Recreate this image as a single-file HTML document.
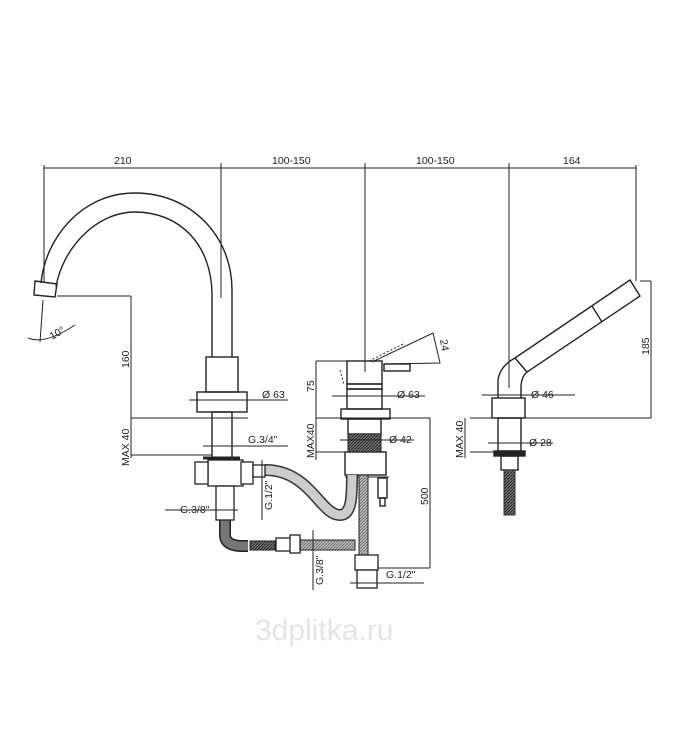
<!DOCTYPE html>
<html><head><meta charset="utf-8"><style>
html,body{margin:0;padding:0;background:#fff;width:700px;height:754px;overflow:hidden}
svg{display:block}
text{font-family:"Liberation Sans",Arial,sans-serif;font-size:10.5px;fill:#222}
</style></head><body>
<svg width="700" height="754" viewBox="0 0 700 754" xmlns="http://www.w3.org/2000/svg">
<defs>
<pattern id="hat" width="3" height="3" patternUnits="userSpaceOnUse"><rect width="3" height="3" fill="#bbb"/><path d="M0 3L3 0" stroke="#666" stroke-width="0.8"/></pattern>
<pattern id="hat2" width="3" height="3" patternUnits="userSpaceOnUse"><rect width="3" height="3" fill="#777"/><path d="M0 3L3 0" stroke="#222" stroke-width="1"/></pattern>
</defs>
<g stroke="#222" stroke-width="1" fill="none">
<!-- top dimension -->
<line x1="44" y1="168" x2="636" y2="168"/>
<line x1="44" y1="165" x2="44" y2="282"/>
<line x1="221" y1="163" x2="221" y2="298"/>
<line x1="365" y1="163" x2="365" y2="372"/>
<line x1="509" y1="163" x2="509" y2="388"/>
<line x1="636" y1="165" x2="636" y2="281"/>
<!-- spout -->
<g stroke-width="1.4">
<path d="M41 283 C 45 240, 80 193, 135 193 C 190 193, 232 235, 232 290 L232 357"/>
<path d="M56 287 C 62 250, 95 212, 135 212 C 180 212, 212 245, 212 295 L212 357"/>
<path d="M35 281 L57 284 L55 297 L34 295 Z"/>
<rect x="206" y="357" width="32" height="35"/>
<rect x="197" y="392" width="50" height="20"/>
<rect x="212" y="412" width="20" height="46"/>
</g>
<line x1="189" y1="400" x2="255" y2="400"/>
<line x1="255" y1="400" x2="288" y2="400"/>
<line x1="57" y1="296" x2="131" y2="296"/>
<line x1="131" y1="296" x2="131" y2="458"/>
<line x1="131" y1="418" x2="248" y2="418"/>
<line x1="131" y1="455" x2="212" y2="455"/>
<line x1="203" y1="446" x2="288" y2="446"/>
<line x1="43" y1="300" x2="40" y2="342"/>
<path d="M28 338 Q45 345 75 325"/>
<!-- mixer -->
<g stroke-width="1.4">
<rect x="347" y="361" width="35" height="23"/>
<rect x="347" y="384" width="35" height="5"/>
<rect x="347" y="389" width="35" height="20"/>
<rect x="341" y="409" width="49" height="10"/>
<rect x="348" y="419" width="33" height="15"/>
<rect x="345" y="452" width="41" height="23"/>
<rect x="384" y="364" width="26" height="7"/>
<rect x="378" y="478" width="9" height="20"/><rect x="380" y="498" width="5" height="8"/>
</g>
<path d="M372 362 L433 333 L440 363 L384 364"/>
<path d="M369 361 L405 343" stroke-dasharray="2,2"/>
<path d="M340 370 L344 385" stroke-dasharray="2,2"/>
<rect x="348" y="434" width="33" height="18" fill="url(#hat2)" stroke="#222"/>
<line x1="345" y1="477" x2="389" y2="477"/>
<line x1="316" y1="361" x2="316" y2="460"/>
<line x1="316" y1="361" x2="347" y2="361"/>
<line x1="316" y1="418" x2="430" y2="418"/>
<line x1="316" y1="452" x2="345" y2="452"/>
<line x1="332" y1="396" x2="425" y2="396"/>
<line x1="340" y1="440" x2="414" y2="440"/>
<line x1="430" y1="418" x2="430" y2="568"/>
<line x1="378" y1="568" x2="430" y2="568"/>
<!-- hand shower -->
<g stroke-width="1.4">
<path d="M498 398 L498 380 Q500 366 515 358 L630 280 L640 296 L527 372 Q521 377 521 388 L521 398"/>
<line x1="515" y1="358" x2="527" y2="372"/>
<line x1="592" y1="306" x2="602" y2="322"/>
<rect x="492" y="398" width="33" height="20"/>
<rect x="498" y="418" width="23" height="33"/>
<rect x="494" y="451" width="31" height="5" fill="#222"/>
<rect x="501" y="456" width="17" height="14"/>
</g>
<rect x="504" y="470" width="11" height="45" fill="url(#hat2)" stroke="#333"/>
<line x1="640" y1="281" x2="651" y2="281"/>
<line x1="651" y1="281" x2="651" y2="418"/>
<line x1="470" y1="418" x2="651" y2="418"/>
<line x1="470" y1="452" x2="498" y2="452"/>
<line x1="482" y1="395" x2="575" y2="395"/>
<line x1="488" y1="443" x2="553" y2="443"/>
<line x1="465" y1="418" x2="465" y2="458"/>
<!-- plumbing -->
<path d="M265 470 C 310 470, 320 515, 340 515 C 352 515, 352 495, 352 475" stroke="#333" stroke-width="12"/>
<path d="M265 470 C 310 470, 320 515, 340 515 C 352 515, 352 495, 352 475" stroke="#ccc" stroke-width="9"/>
<path d="M225 520 L225 535 Q225 545 240 546 L248 546" stroke="#222" stroke-width="12"/>
<path d="M225 520 L225 535 Q225 545 240 546 L248 546" stroke="#777" stroke-width="9"/>
<rect x="250" y="541" width="25" height="9" fill="url(#hat2)"/>
<rect x="300" y="540" width="55" height="10" fill="url(#hat)"/>
<rect x="359" y="475" width="9" height="80" fill="url(#hat)"/>
<g stroke-width="1.3" fill="#fff">
<rect x="208" y="460" width="35" height="26"/>
<rect x="195" y="462" width="13" height="22"/>
<rect x="241" y="462" width="12" height="22"/>
<rect x="253" y="465" width="12" height="12"/>
<rect x="216" y="486" width="18" height="34"/>
<rect x="276" y="538" width="24" height="13"/>
<rect x="290" y="535" width="10" height="18"/>
<rect x="355" y="555" width="23" height="15"/>
<rect x="357" y="570" width="20" height="18"/>
</g>
<line x1="203" y1="458" x2="240" y2="458" stroke-width="3"/>
<line x1="262" y1="460" x2="262" y2="520"/>
<line x1="165" y1="510" x2="238" y2="510"/>
<line x1="313" y1="530" x2="313" y2="590"/>
<line x1="350" y1="583" x2="424" y2="583"/>
</g>
<g>
<text x="114" y="164">210</text>
<text x="272" y="164">100-150</text>
<text x="416" y="164">100-150</text>
<text x="563" y="164">164</text>
<text x="262" y="398">Ø 63</text>
<text x="248" y="443">G.3/4"</text>
<text x="397" y="398">Ø 63</text>
<text x="389" y="443">Ø 42</text>
<text x="531" y="398">Ø 46</text>
<text x="529" y="446">Ø 28</text>
<text x="180" y="513">G.3/8"</text>
<text x="386" y="578">G.1/2"</text>
<text transform="translate(52,340) rotate(-30)">10°</text>
<text transform="translate(440,340) rotate(80)">24</text>
<text transform="translate(129,368) rotate(-90)">160</text>
<text transform="translate(129,466) rotate(-90)">MAX 40</text>
<text transform="translate(314,392) rotate(-90)">75</text>
<text transform="translate(314,458) rotate(-90)">MAX40</text>
<text transform="translate(428,505) rotate(-90)">500</text>
<text transform="translate(463,458) rotate(-90)">MAX 40</text>
<text transform="translate(649,355) rotate(-90)">185</text>
<text transform="translate(272,510) rotate(-90)">G.1/2"</text>
<text transform="translate(323,585) rotate(-90)">G.3/8"</text>
<text x="255" y="640" style="font-size:30px;fill:#e4e4e4">3dplitka.ru</text>
</g>
</svg>
</body></html>
